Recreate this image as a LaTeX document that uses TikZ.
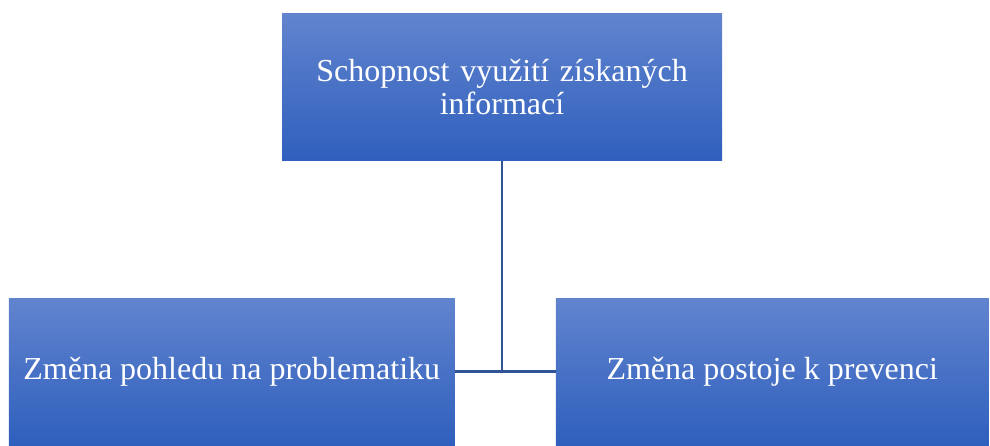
\documentclass[tikz,border=0pt]{standalone}
\usepackage{fontspec}
\setmainfont{Liberation Serif}
\usetikzlibrary{trees}
\definecolor{boxtop}{HTML}{6184CE}
\definecolor{boxbottom}{HTML}{2F5FBD}
\definecolor{linkblue}{HTML}{2F5597}

\begin{document}
\begin{tikzpicture}[x=1pt, y=1pt,
            level distance=284pt,
            level 1/.style={sibling distance=540.5pt},
            every node/.style = {minimum height=147pt, text=white, align=center,
                top color=boxtop, bottom color=boxbottom,
                font=\fontsize{32}{33}\selectfont},
            edge from parent/.style = {draw=linkblue, line width=2.6pt}
            ]
            \useasboundingbox (0,0) rectangle (990,-446);
            \node (info) at (502,-87.5) [minimum width=440pt, text width=400pt] {Schopnost využití získaných\\informací}
                child[edge from parent path={(\tikzparentnode.south) |- (\tikzchildnode.east)}] {node (view) [minimum width=446pt] {Změna pohledu na problematiku}}
                child[edge from parent path={(\tikzparentnode.south) |- (\tikzchildnode.west)}] {node (stance) [minimum width=433pt] {Změna postoje k prevenci}};
\end{tikzpicture}
\end{document}
